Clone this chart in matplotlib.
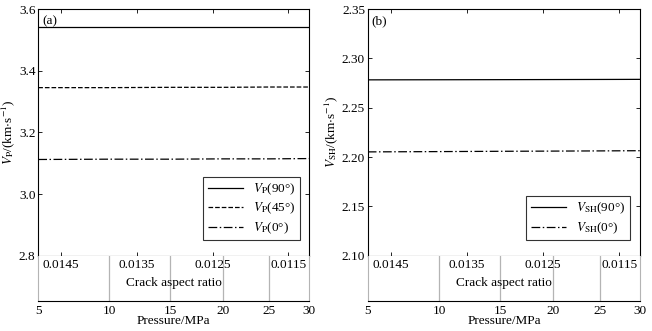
import matplotlib
matplotlib.use('Agg')
import matplotlib.pyplot as plt

plt.rcParams['font.family'] = ['Liberation Serif', 'DejaVu Serif']
plt.rcParams['mathtext.fontset'] = 'stix'
plt.rcParams['font.size'] = 9.5

# pressure steps and the crack aspect ratio they correspond to
pressure = [5, 10, 15, 20, 25, 30]
aspect_ratio = [0.0148, 0.013863, 0.013058, 0.012367, 0.011752, 0.011223]
ar_ticks = [0.0145, 0.0135, 0.0125, 0.0115]

vp90 = [3.543, 3.543, 3.543, 3.543, 3.543, 3.543]
vp45 = [3.345, 3.345, 3.346, 3.346, 3.347, 3.347]
vp0 = [3.112, 3.113, 3.113, 3.114, 3.114, 3.115]

vsh90 = [2.2782, 2.2783, 2.2784, 2.2785, 2.2786, 2.2787]
vsh0 = [2.2052, 2.2055, 2.2058, 2.206, 2.2062, 2.2064]

fig = plt.figure(figsize=(6.52, 3.31), dpi=100)

def panel(x0, width, tag, series, ylim, yticks, yfmt, ylabel, legend_anchor):
    ax = fig.add_axes([x0, 0.2275, width, 0.7453])
    band = fig.add_axes([x0, 0.0915, width, 0.136])
    for y, ls, lab in series:
        ax.plot(aspect_ratio, y, color='k', ls=ls, lw=0.9, label=lab)
    ax.set_xlim(aspect_ratio[0], aspect_ratio[-1])
    ax.set_ylim(*ylim)
    ax.set_yticks(yticks)
    ax.set_yticklabels([yfmt.format(v) for v in yticks])
    ax.set_xticks(ar_ticks)
    ax.tick_params(direction='in', top=True, right=True, length=3, width=0.6,
                   labelbottom=False, pad=2)
    ax.set_ylabel(ylabel, labelpad=1)
    ax.text(0.015, 0.975, tag, transform=ax.transAxes, ha='left', va='top')
    for s in ax.spines.values():
        s.set_linewidth(0.8)
    leg = ax.legend(loc='lower right', bbox_to_anchor=legend_anchor, frameon=True,
                    fancybox=False, edgecolor='k', handlelength=2.7,
                    borderpad=0.35, labelspacing=0.3, handletextpad=0.7)
    leg.get_frame().set_linewidth(0.8)

    band.set_xlim(aspect_ratio[0], aspect_ratio[-1])
    band.set_ylim(0, 1)
    band.set_yticks([])
    band.set_xticks(aspect_ratio)
    band.set_xticklabels([str(p) for p in pressure])
    band.tick_params(axis='x', length=0, pad=3)
    for a in aspect_ratio[1:-1]:
        band.axvline(a, color='#b4b4b4', lw=0.9)
    band.spines['top'].set_visible(False)
    band.spines['left'].set_color('#b4b4b4')
    band.spines['right'].set_color('#b4b4b4')
    band.spines['bottom'].set_linewidth(0.8)
    for t in ar_ticks:
        band.text(t, 0.8, '{:.4f}'.format(t), ha='center', va='center')
    band.text(0.5, 0.4, 'Crack aspect ratio', transform=band.transAxes,
              ha='center', va='center')
    band.set_xlabel('Pressure/MPa', labelpad=-1)

panel(0.0587, 0.4157, '(a)',
      [(vp90, '-', r'$V_{\rm P}$(90°)'),
       (vp45, '--', r'$V_{\rm P}$(45°)'),
       (vp0, (0, (7, 2, 1.2, 2)), r'$V_{\rm P}$(0°)')],
      (2.8, 3.6), [2.8, 3.0, 3.2, 3.4, 3.6], '{:.1f}',
      r'$V_{\rm P}$/(km$\cdot$s$^{-1}$)', (0.99, 0.035))

panel(0.564, 0.418, '(b)',
      [(vsh90, '-', r'$V_{\rm SH}$(90°)'),
       (vsh0, (0, (7, 2, 1.2, 2)), r'$V_{\rm SH}$(0°)')],
      (2.10, 2.35), [2.10, 2.15, 2.20, 2.25, 2.30, 2.35], '{:.2f}',
      r'$V_{\rm SH}$/(km$\cdot$s$^{-1}$)', (0.985, 0.035))

fig.savefig('out.png', dpi=100)
